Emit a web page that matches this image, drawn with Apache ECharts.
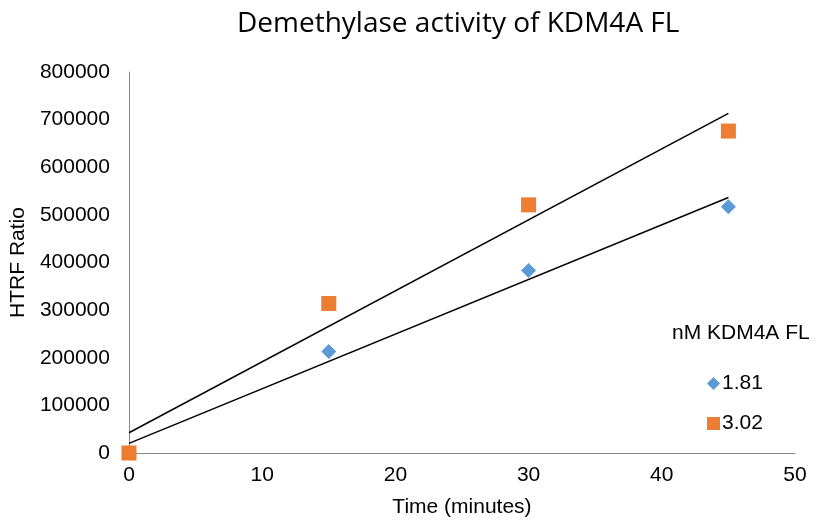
<!DOCTYPE html>
<html><head><meta charset="utf-8">
<script src="https://cdn.jsdelivr.net/npm/echarts@6/dist/echarts.min.js"></script>
<style>html,body{margin:0;padding:0;background:#fff}#c{width:817px;height:523px}</style>
</head><body><div id="c"></div>
<script>
const xTime = [0, 15, 30, 45];
const seriesNames = ['1.81', '3.02'];
const s181 = [0, 213000, 383000, 517000];
const s302 = [0, 314000, 521000, 676000];

function fit(xs, ys) {
  const n = xs.length;
  const mx = xs.reduce((a, b) => a + b, 0) / n;
  const my = ys.reduce((a, b) => a + b, 0) / n;
  let sxy = 0, sxx = 0;
  for (let i = 0; i < n; i++) { sxy += (xs[i] - mx) * (ys[i] - my); sxx += (xs[i] - mx) ** 2; }
  const b = sxy / sxx, a = my - b * mx;
  const x0 = Math.min(...xs), x1 = Math.max(...xs);
  return [[x0, a + b * x0], [x1, a + b * x1]];
}
const pts = ys => xTime.map((x, i) => [x, ys[i]]);

const FF = 'Liberation Sans, Arial, sans-serif';
const chart = echarts.init(document.getElementById('c'));
const axisFont = { fontFamily: FF, fontSize: 21, color: '#000' };
chart.setOption({
  animation: false,
  title: [
    { text: 'Demethylase activity of KDM4A FL', left: 232, top: 5,
      textStyle: { fontFamily: 'Open Sans, sans-serif', fontSize: 28, fontWeight: 'normal', color: '#000' } },
    { text: 'nM KDM4A FL', left: 667, top: 318,
      textStyle: { fontFamily: FF, fontSize: 21, fontWeight: 'normal', color: '#000' } }
  ],
  legend: {
    data: [{ name: seriesNames[0], icon: 'diamond' }, { name: seriesNames[1], icon: 'rect' }],
    orient: 'vertical', left: 702, top: 368, itemGap: 19, itemWidth: 13, itemHeight: 13,
    textStyle: { fontFamily: FF, fontSize: 21, color: '#000', padding: [0, 0, 0, -3] }
  },
  grid: { left: 127, right: 22, top: 72, bottom: 68 },
  xAxis: {
    type: 'value', min: 0, max: 50, interval: 10,
    name: 'Time (minutes)', nameLocation: 'middle', nameGap: 44,
    nameTextStyle: { fontFamily: FF, fontSize: 21, color: '#000' },
    axisLine: { show: true, lineStyle: { color: '#868686' } },
    axisTick: { show: false },
    splitLine: { show: false },
    axisLabel: Object.assign({ margin: 12 }, axisFont)
  },
  yAxis: {
    type: 'value', min: 0, max: 800000, interval: 100000,
    name: 'HTRF Ratio', nameLocation: 'middle', nameGap: 97,
    nameTextStyle: { fontFamily: FF, fontSize: 21, color: '#000' },
    axisLine: { show: true, lineStyle: { color: '#868686' } },
    axisTick: { show: false },
    splitLine: { show: false },
    axisLabel: Object.assign({ margin: 19, formatter: v => String(v) }, axisFont)
  },
  series: [
    { name: 'fit181', type: 'line', data: fit(xTime, s181), symbol: 'none', silent: true,
      lineStyle: { color: '#000', width: 1.5 }, z: 1 },
    { name: 'fit302', type: 'line', data: fit(xTime, s302), symbol: 'none', silent: true,
      lineStyle: { color: '#000', width: 1.5 }, z: 1 },
    { name: seriesNames[0], type: 'scatter', data: pts(s181), symbol: 'diamond', symbolSize: 15,
      itemStyle: { color: '#5B9BD5', opacity: 1 }, z: 3 },
    { name: seriesNames[1], type: 'scatter', data: pts(s302), symbol: 'rect', symbolSize: 15,
      itemStyle: { color: '#ED7D31', opacity: 1 }, z: 3 }
  ]
});
</script></body></html>
